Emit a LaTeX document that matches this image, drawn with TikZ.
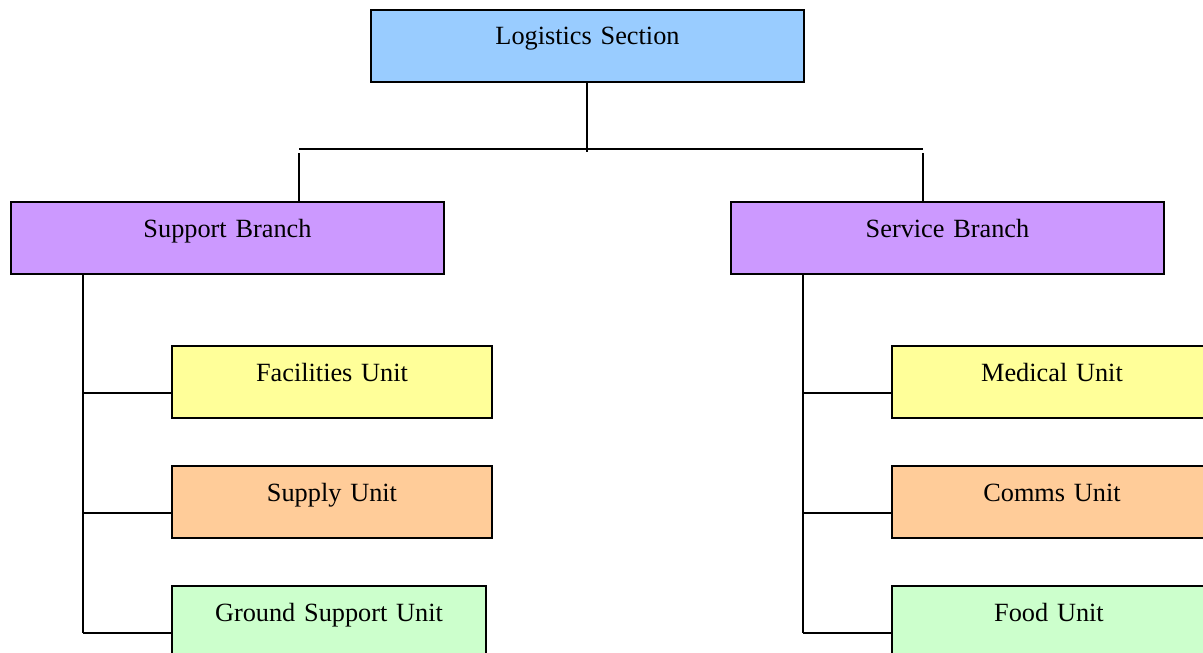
\documentclass[tikz,border=0pt]{standalone}
\usepackage{fontspec}
\setmainfont{Liberation Serif}
\definecolor{cblue}{HTML}{99CCFF}
\definecolor{cpurple}{HTML}{CC99FF}
\definecolor{cyellow}{HTML}{FFFF99}
\definecolor{corange}{HTML}{FFCC99}
\definecolor{cgreen}{HTML}{CCFFCC}
\tikzset{
  orgbox/.style={draw=black, line width=2pt, inner sep=0pt, anchor=north west,
    text width=#1, align=center, text height=35pt, text depth=37pt,
    font=\fontsize{26.3}{30}\selectfont},
  link/.style={draw=black, line width=2pt}
}
\begin{document}
\begin{tikzpicture}[x=1pt, y=-1pt]
\clip (0,0) rectangle (1203,653);
\fill[white] (0,0) rectangle (1203,653);

% top level
\node[orgbox=433pt, fill=cblue] (log) at (370,9) {Logistics Section};

% branches
\node[orgbox=433pt, fill=cpurple] (sup) at (10,201) {Support Branch};
\node[orgbox=433pt, fill=cpurple] (ser) at (730,201) {Service Branch};

% units of the support branch
\node[orgbox=320pt, fill=cyellow] (fac) at (171,345) {Facilities Unit};
\node[orgbox=320pt, fill=corange] (spl) at (171,465) {Supply Unit};
\node[orgbox=314pt, fill=cgreen]  (gnd) at (171,585) {Ground Support Unit};

% units of the service branch
\node[orgbox=320pt, fill=cyellow] (med) at (891,345) {Medical Unit};
\node[orgbox=320pt, fill=corange] (com) at (891,465) {Comms Unit};
\node[orgbox=314pt, fill=cgreen]  (food) at (891,585) {Food Unit};

% junction points
\coordinate (drop) at (586.7,152);
\coordinate (barL) at (299,148.5);
\coordinate (barR) at (922.7,148.5);
\coordinate (stubL) at (299,153);
\coordinate (stubR) at (922.7,153);
\coordinate (sj1) at (82.7,392.7);
\coordinate (sj2) at (82.7,512.7);
\coordinate (sj3) at (82.7,632.7);
\coordinate (vj1) at (802.7,392.7);
\coordinate (vj2) at (802.7,512.7);
\coordinate (vj3) at (802.7,632.7);

% section to branches
\draw[link] (log.south -| drop) -- (drop);
\draw[link] (barL) -- (barR);
\draw[link] (stubL) -- (stubL |- sup.north);
\draw[link] (stubR) -- (stubR |- ser.north);

% support branch tree
\draw[link] (sup.south -| sj1) -- (sj3);
\draw[link] (sj1) -- (sj1 -| fac.west);
\draw[link] (sj2) -- (sj2 -| spl.west);
\draw[link] (sj3) -- (sj3 -| gnd.west);

% service branch tree
\draw[link] (ser.south -| vj1) -- (vj3);
\draw[link] (vj1) -- (vj1 -| med.west);
\draw[link] (vj2) -- (vj2 -| com.west);
\draw[link] (vj3) -- (vj3 -| food.west);
\end{tikzpicture}
\end{document}
